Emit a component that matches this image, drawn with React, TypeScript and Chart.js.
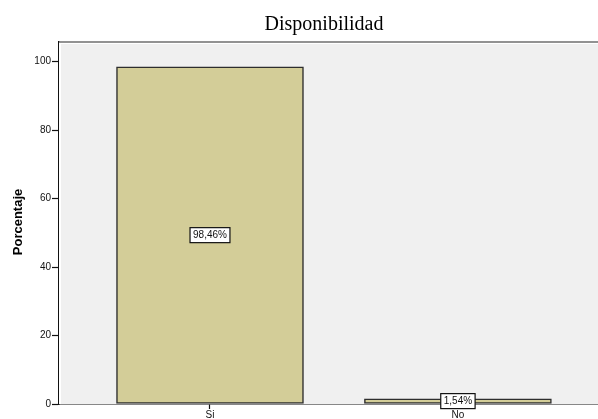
import React, { useEffect, useRef } from "react";
import { Chart, registerables } from "chart.js";

Chart.register(...registerables);

const categories = ["Si", "No"];
const percentages = [98.46, 1.54];
const yTicks = [0, 20, 40, 60, 80, 100];
const chartTitle = "Disponibilidad";
const yTitle = "Porcentaje";

export default function App() {
  const ref = useRef<HTMLCanvasElement | null>(null);

  useEffect(() => {
    if (!ref.current) return;
    const decor = {
      id: "decor",
      beforeDatasetsDraw(chart: any) {
        const { ctx, chartArea: a } = chart;
        ctx.save();
        ctx.fillStyle = "#ffffff";
        ctx.fillRect(a.left, a.top, a.right - a.left, a.bottom - a.top);
        ctx.fillStyle = "#f0f0f0";
        ctx.fillRect(a.left + 2, a.top + 2, a.right - a.left - 2, a.bottom - a.top - 2);
        ctx.strokeStyle = "#6e6e6e";
        ctx.lineWidth = 1.5;
        ctx.beginPath();
        ctx.moveTo(a.left, a.top);
        ctx.lineTo(a.right, a.top);
        ctx.stroke();
        ctx.restore();
      },
      afterDraw(chart: any) {
        const { ctx } = chart;
        ctx.save();
        ctx.fillStyle = "#000";
        ctx.font = "20px 'Liberation Serif', 'Times New Roman', serif";
        ctx.textAlign = "center";
        ctx.textBaseline = "alphabetic";
        ctx.fillText(chartTitle, 324, 30);
        ctx.translate(18, 222);
        ctx.rotate(-Math.PI / 2);
        ctx.font = "bold 13px 'Liberation Sans', Arial, sans-serif";
        ctx.textBaseline = "middle";
        ctx.fillText(yTitle, 0, 0);
        ctx.restore();

        const meta = chart.getDatasetMeta(0);
        ctx.save();
        ctx.font = "10px 'Liberation Sans', Arial, sans-serif";
        ctx.textAlign = "center";
        ctx.textBaseline = "middle";
        meta.data.forEach((bar: any, i: number) => {
          const label = percentages[i].toFixed(2).replace(".", ",") + "%";
          const cx = bar.x;
          const cy = (bar.y + bar.base) / 2;
          const w = ctx.measureText(label).width + 6;
          const h = 15;
          ctx.fillStyle = "#ffffff";
          ctx.fillRect(cx - w / 2, cy - h / 2, w, h);
          ctx.strokeStyle = "#111";
          ctx.lineWidth = 1.2;
          ctx.strokeRect(cx - w / 2, cy - h / 2, w, h);
          ctx.fillStyle = "#111";
          ctx.fillText(label, cx, cy + 0.5);
        });
        ctx.restore();
      },
    };

    const chart = new Chart(ref.current, {
      type: "bar",
      data: {
        datasets: [
          {
            data: percentages.map((v, i) => ({ x: i + 1, y: v })),
            backgroundColor: "#d3cd98",
            borderColor: "#2e2e2e",
            borderWidth: 1.5,
            borderSkipped: false,
            barThickness: 187,
          },
        ],
      },
      options: {
        responsive: false,
        animation: false,
        layout: { padding: { top: 42, right: 0, left: 0, bottom: 0 } },
        plugins: {
          legend: { display: false },
          tooltip: { enabled: false },
          title: { display: false },
        },
        scales: {
          x: {
            type: "linear",
            offset: false,
            min: 0.391,
            max: 2.565,
            afterFit(scale: any) {
              scale.height = 15;
            },
            afterBuildTicks(scale: any) {
              scale.ticks = categories.map((_, i) => ({ value: i + 1 }));
            },
            ticks: {
              callback: (v: any) => categories[Math.round(Number(v)) - 1] ?? "",
              color: "#111",
              font: { size: 10, family: "'Liberation Sans', Arial, sans-serif" },
              padding: 0,
              maxRotation: 0,
              autoSkip: false,
            },
            grid: { offset: false, drawOnChartArea: false, tickLength: 5, tickColor: "#111", tickWidth: 1.2 },
            border: { color: "#111", width: 1.5 },
          },
          y: {
            min: 0,
            max: 105.7,
            afterFit(scale: any) {
              scale.width = 59;
            },
            afterBuildTicks(scale: any) {
              scale.ticks = yTicks.map((v) => ({ value: v }));
            },
            ticks: {
              color: "#111",
              font: { size: 10, family: "'Liberation Sans', Arial, sans-serif" },
              padding: 1,
            },
            grid: { drawOnChartArea: false, tickLength: 7, tickColor: "#111", tickWidth: 1.2 },
            border: { color: "#111", width: 1.5 },
          },
        },
      },
      plugins: [decor],
    });
    return () => chart.destroy();
  }, []);

  return (
    <div style={{ position: "absolute", left: 0, top: 0, width: 598, height: 419, background: "#fff" }}>
      <canvas ref={ref} width={598} height={419} />
    </div>
  );
}
